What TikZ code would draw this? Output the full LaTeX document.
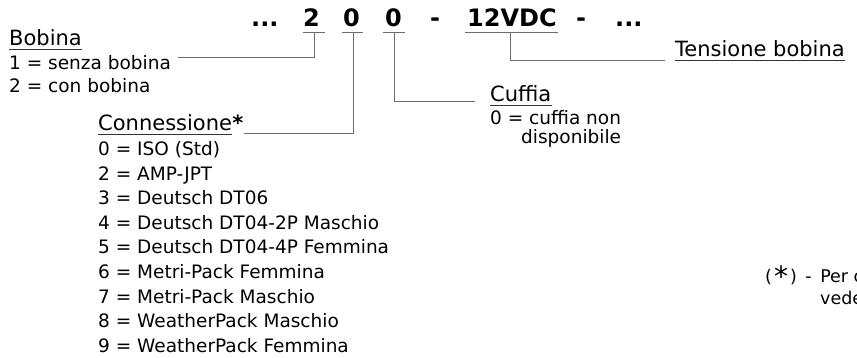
\documentclass[tikz,border=0pt]{standalone}
\usepackage{fontspec}
\setmainfont{DejaVu Sans}
\usetikzlibrary{positioning}

\tikzset{
  codepart/.style={font=\fontsize{24}{24}\selectfont\bfseries, anchor=base west, inner sep=0pt},
  entry/.style={font=\fontsize{18.5}{20}\selectfont, anchor=base west, inner sep=0pt},
  heading/.style={font=\fontsize{21}{22}\selectfont, anchor=base west, inner sep=0pt},
  footnote/.style={font=\fontsize{17.5}{19}\selectfont, anchor=base west, inner sep=0pt},
  tick/.style={draw=gray!85!black, line width=1.1pt},
  lead/.style={draw=gray!85!black, line width=0.8pt},
  uline/.style={draw=black!80, line width=0.9pt}
}

\begin{document}
\begin{tikzpicture}[x=1pt,y=-1pt]
  \useasboundingbox (0,0) rectangle (857,358);
  \clip (0,0) rectangle (857,358);

  % the code line at the top
  \node[codepart] (dotsl) at (251,26.7) {...};
  \node[codepart] (bob)   at (303,26.7) {2};
  \node[codepart] (con)   at (343,26.7) {0};
  \node[codepart] (cuf)   at (385,26.7) {0};
  \node[codepart] (dasha) at (430,26.7) {-};
  \node[codepart] (volt)  at (467,26.7) {12VDC};
  \node[codepart] (dashb) at (576,26.7) {-};
  \node[codepart] (dotsr) at (615,26.7) {...};

  % ticks under the fields
  \coordinate (tbob)  at (314,32.3);
  \coordinate (tcon)  at (353,32.3);
  \coordinate (tcuf)  at (394,32.3);
  \coordinate (tvolt) at (510,32.3);
  \draw[tick] (303,32.3) -- (325,32.3);
  \draw[tick] (342,32.3) -- (363,32.3);
  \draw[tick] (383,32.3) -- (405,32.3);
  \draw[tick] (465,32.3) -- (558,32.3);

  % bobina
  \node[heading] (bobhead) at (9,45.5) {Bobina};
  \node[entry] (bobone)  at (9,70.0) {1 = senza bobina};
  \node[entry] (bobtwo)  at (9,93.0) {2 = con bobina};

  % connessione
  \node[heading] (conhead) at (98,130.5) {Connessione};
  \node[heading, font=\fontsize{21}{22}\selectfont\bfseries] (constar) at (conhead.base east) {*};
  \node[entry] (conzero)  at (98,156.0) {0 = ISO (Std)};
  \node[entry] (contwo)   at (98,180.5) {2 = AMP-JPT};
  \node[entry] (conthree) at (98,205.0) {3 = Deutsch DT06};
  \node[entry] (confour)  at (98,229.5) {4 = Deutsch DT04-2P Maschio};
  \node[entry] (confive)  at (98,254.0) {5 = Deutsch DT04-4P Femmina};
  \node[entry] (consix)   at (98,278.5) {6 = Metri-Pack Femmina};
  \node[entry] (conseven) at (98,303.0) {7 = Metri-Pack Maschio};
  \node[entry] (coneight) at (98,327.5) {8 = WeatherPack Maschio};
  \node[entry] (connine)  at (98,352.0) {9 = WeatherPack Femmina};

  % cuffia
  \node[heading] (cufhead) at (490,102.0) {Cuffia};
  \node[entry] (cufzero) at (490,124.5) {0 = cuffia non};
  \node[entry] (cufmore) at (521,143.5) {disponibile};

  % tensione bobina
  \node[heading] (volthead) at (675,57.0) {Tensione bobina};

  % footnote, cut by the right edge
  \node[footnote] (noteone) at (765,283.0)
    {(\hspace{2pt}\raisebox{-3.5pt}[0pt][0pt]{\fontsize{28}{28}\selectfont *}\hspace{2pt})\hspace{3pt} -\hspace{3pt} Per c};
  \node[footnote] (notetwo) at (820,304.0) {vede};

  % underlined headings
  \draw[uline] ([yshift=-3pt]bobhead.south west) -- ([yshift=-3pt]bobhead.south east);
  \draw[uline] ([yshift=-3pt]conhead.south west) -- ([yshift=-3pt]conhead.south east);
  \draw[uline] ([yshift=-3pt]cufhead.south west) -- ([yshift=-3pt]cufhead.south east);
  \draw[uline] ([yshift=-3pt]volthead.south west) -- ([yshift=-3pt]volthead.south east);

  % leaders from the fields to their headings
  \coordinate (ebob)  at (178,57);
  \coordinate (econ)  at (244,133.5);
  \coordinate (ecuf)  at (475,101.7);
  \coordinate (evolt) at (665,60);
  \draw[lead] (tbob) |- (ebob);
  \draw[lead] (tcon) |- (econ);
  \draw[lead] (tcuf) |- (ecuf);
  \draw[lead] (tvolt) |- (evolt);
\end{tikzpicture}
\end{document}
